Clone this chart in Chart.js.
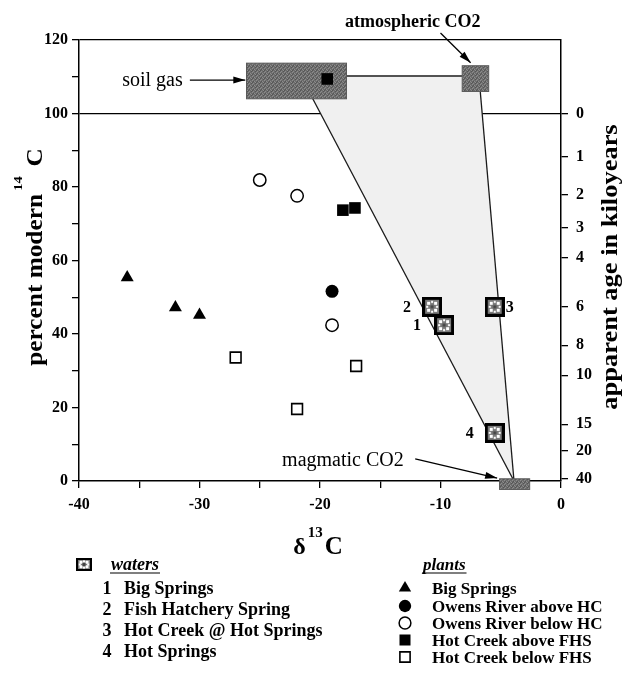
<!DOCTYPE html>
<html>
<head>
<meta charset="utf-8">
<script src="https://cdn.jsdelivr.net/npm/chart.js@4.4.0/dist/chart.umd.min.js"></script>
<style>
  html, body { margin: 0; padding: 0; background: #fff; }
  #wrap { width: 623px; height: 677px; }
</style>
</head>
<body>
<div id="wrap"><canvas id="chart" width="623" height="677"></canvas></div>
<script>
// axes
const xMin = -40, xMax = 0;
const yMin = 0, yMax = 120;
const ageTicks = [0, 1, 2, 3, 4, 6, 8, 10, 15, 20, 40]; // kiloyears, right axis
const meanLife = 8.033; // ky, 14C mean life used for the age axis

// waters (numbered, crosshatched squares)
const waterNames = ['Big Springs', 'Fish Hatchery Spring', 'Hot Creek @ Hot Springs', 'Hot Springs'];
const waterX = [-9.7, -10.7, -5.5, -5.5];
const waterY = [42.4, 47.4, 47.4, 13.1];

// plants
const plantNames = ['Big Springs', 'Owens River above HC', 'Owens River below HC', 'Hot Creek above FHS', 'Hot Creek below FHS'];
const bigSpringsX = [-36, -32, -30];
const bigSpringsY = [55.4, 47.2, 45.2];
const owensAboveX = [-19];
const owensAboveY = [51.6];
const owensBelowX = [-25, -21.9, -19];
const owensBelowY = [81.9, 77.6, 42.4];
const hcAboveX = [-19.4, -18.1, -17.1];
const hcAboveY = [109.4, 73.7, 74.3];
const hcBelowX = [-27, -21.9, -17];
const hcBelowY = [33.6, 19.6, 31.3];

// end members [x0, x1, y0, y1]
const soilGasBox = [-26.1, -17.8, 104, 113.7];
const atmBox = [-8.2, -6.0, 106, 113];
const magmaticBox = [-5.1, -2.6, -2.3, 0.6];

// mixing lines
const soilLineX = [-20.6, -3.9];
const soilLineY = [104, 0];
const atmLineX = [-6.7, -3.9];
const atmLineY = [106, 0];
const linkX = [-17.8, -8.2];
const linkY = [110.2, 110.2];
const envelopeX = [-21.6, -6.8, -3.9, -21.6];
const envelopeY = [110, 110, 0, 110];

const serif = '"Liberation Serif", "Times New Roman", serif';
Chart.defaults.color = '#000';
Chart.defaults.font.family = serif;

const pts = (xs, ys) => xs.map((x, i) => ({x: x, y: ys[i]}));

function waterIcon(w, h, b) {
  const c = document.createElement('canvas');
  c.width = w; c.height = h;
  const g = c.getContext('2d');
  g.fillStyle = '#000';
  g.fillRect(0, 0, w, h);
  g.fillStyle = '#7a7a7a';
  g.fillRect(b, b, w - 2 * b, h - 2 * b);
  g.fillStyle = '#fff';
  const mx = w / 2, my = h / 2, qx = (w - 2 * b) / 4, qy = (h - 2 * b) / 4;
  [[-1, -1], [1, -1], [-1, 1], [1, 1]].forEach(([i, j]) => g.fillRect(mx + i * qx - 1.5, my + j * qy - 1.5, 3, 3));
  [[0, -1.4], [-1.4, 0], [1.4, 0], [0, 1.4]].forEach(([i, j]) => g.fillRect(mx + i * qx - 1, my + j * qy - 1, 2, 2));
  g.fillStyle = '#444';
  g.fillRect(mx - 1.5, my - 1.5, 3, 3);
  return c;
}
const waterMark = waterIcon(20, 20, 3);
const waterLegendMark = waterIcon(16, 13, 2);

function grainPattern(ctx) {
  const c = document.createElement('canvas');
  c.width = 4; c.height = 4;
  const g = c.getContext('2d');
  g.fillStyle = '#6c6c6c'; g.fillRect(0, 0, 4, 4);
  g.fillStyle = '#8c8c8c';
  g.fillRect(0, 0, 1, 1); g.fillRect(2, 1, 1, 1); g.fillRect(1, 3, 1, 1); g.fillRect(3, 2, 1, 1);
  g.fillStyle = '#555';
  g.fillRect(1, 1, 1, 1); g.fillRect(3, 3, 1, 1); g.fillRect(0, 2, 1, 1);
  return ctx.createPattern(c, 'repeat');
}

const plantStyles = [
  {pointStyle: 'triangle', radius: 7.5, bg: '#000', border: '#000', bw: 0},
  {pointStyle: 'circle', radius: 6.5, bg: '#000', border: '#000', bw: 0},
  {pointStyle: 'circle', radius: 6.2, bg: '#fff', border: '#000', bw: 1.5},
  {pointStyle: 'rect', radius: 8.2, bg: '#000', border: '#000', bw: 0},
  {pointStyle: 'rect', radius: 7.6, bg: '#fff', border: '#000', bw: 1.6}
];
const plantX = [bigSpringsX, owensAboveX, owensBelowX, hcAboveX, hcBelowX];
const plantY = [bigSpringsY, owensAboveY, owensBelowY, hcAboveY, hcBelowY];

function lineSet(xs, ys, order, extra) {
  return Object.assign({
    data: pts(xs, ys), showLine: true, pointRadius: 0, borderColor: '#1a1a1a',
    borderWidth: 1.3, fill: false, order: order
  }, extra || {});
}

const datasets = [
  lineSet(envelopeX, envelopeY, 12, {fill: 'shape', backgroundColor: '#f0f0f0', borderWidth: 0, borderColor: 'rgba(0,0,0,0)'}),
  lineSet(linkX, linkY, 11),
  lineSet(atmLineX, atmLineY, 10),
  lineSet(soilLineX, soilLineY, 9, {boxesAfter: true}),
  {
    label: 'waters', data: pts(waterX, waterY), pointStyle: waterMark, pointRadius: 10, order: 2
  }
];
plantNames.forEach((n, k) => {
  const s = plantStyles[k];
  datasets.push({
    label: n, data: pts(plantX[k], plantY[k]), pointStyle: s.pointStyle, pointRadius: s.radius,
    backgroundColor: s.bg, borderColor: s.border, borderWidth: s.bw, order: 1
  });
});

function drawBox(chart, box) {
  const {ctx, scales: {x, y}} = chart;
  const x0 = x.getPixelForValue(box[0]), x1 = x.getPixelForValue(box[1]);
  const y0 = y.getPixelForValue(box[3]), y1 = y.getPixelForValue(box[2]);
  ctx.save();
  ctx.fillStyle = grainPattern(ctx);
  ctx.fillRect(x0, y0, x1 - x0, y1 - y0);
  ctx.strokeStyle = '#5a5a5a';
  ctx.lineWidth = 1;
  ctx.strokeRect(x0, y0, x1 - x0, y1 - y0);
  ctx.restore();
}

function arrow(ctx, x1, y1, x2, y2) {
  ctx.beginPath(); ctx.moveTo(x1, y1); ctx.lineTo(x2, y2); ctx.stroke();
  const a = Math.atan2(y2 - y1, x2 - x1), L = 12, W = 3.5;
  ctx.beginPath();
  ctx.moveTo(x2, y2);
  ctx.lineTo(x2 - L * Math.cos(a) + W * Math.sin(a), y2 - L * Math.sin(a) - W * Math.cos(a));
  ctx.lineTo(x2 - L * Math.cos(a) - W * Math.sin(a), y2 - L * Math.sin(a) + W * Math.cos(a));
  ctx.closePath(); ctx.fill();
}

function richText(ctx, parts, x, y, angle, stretch) {
  ctx.save();
  ctx.translate(x, y);
  ctx.rotate(angle);
  ctx.scale(stretch, 1);
  let total = 0;
  parts.forEach(p => { ctx.font = p.font; p.w = ctx.measureText(p.t).width; total += p.w + (p.gap || 0); });
  let cur = -total / 2;
  ctx.textAlign = 'left';
  ctx.textBaseline = 'alphabetic';
  parts.forEach(p => { cur += p.gap || 0; ctx.font = p.font; ctx.fillText(p.t, cur, p.dy || 0); cur += p.w; });
  ctx.restore();
}

const annotations = [
  {text: 'soil gas', font: '20px ' + serif, tx: -33.9, ty: 108.8, from: [-30.8, 109.1], to: [-26.2, 109.1]},
  {text: 'atmospheric CO2', font: 'bold 18px ' + serif, tx: -12.3, ty: 124.9, from: [-10.0, 121.9], to: [-7.5, 113.8]},
  {text: 'magmatic CO2', font: '20px ' + serif, tx: -18.1, ty: 5.4, from: [-12.1, 6.0], to: [-5.3, 0.8]}
];
const waterLabelDx = [-27, -25, 15, -25];

const figurePlugin = {
  id: 'figure',
  afterDatasetDraw(chart, args) {
    if (!chart.data.datasets[args.index].boxesAfter) return;
    drawBox(chart, soilGasBox);
    drawBox(chart, atmBox);
    drawBox(chart, magmaticBox);
  },
  afterDraw(chart) {
    const {ctx, scales: {x, y}} = chart;
    ctx.save();
    ctx.fillStyle = '#000';
    ctx.strokeStyle = '#000';
    ctx.lineWidth = 1.3;
    ctx.textBaseline = 'middle';
    ctx.textAlign = 'center';
    annotations.forEach(a => {
      ctx.font = a.font;
      ctx.fillText(a.text, x.getPixelForValue(a.tx), y.getPixelForValue(a.ty));
      arrow(ctx, x.getPixelForValue(a.from[0]), y.getPixelForValue(a.from[1]),
        x.getPixelForValue(a.to[0]), y.getPixelForValue(a.to[1]));
    });
    // water numbers
    ctx.font = 'bold 16px ' + serif;
    waterX.forEach((wx, i) => {
      ctx.fillText(String(i + 1), x.getPixelForValue(wx) + waterLabelDx[i], y.getPixelForValue(waterY[i]) + 1);
    });
    ctx.restore();

    // axis titles
    richText(ctx, [
      {t: 'percent modern', font: 'bold 23px ' + serif},
      {t: '14', font: 'bold 13px ' + serif, gap: 3, dy: -20},
      {t: 'C', font: 'bold 23px ' + serif, gap: 9}
    ], 42, 257, -Math.PI / 2, 1.1);
    richText(ctx, [
      {t: 'apparent age in kiloyears', font: 'bold 23px ' + serif}
    ], 617, 267, -Math.PI / 2, 1.15);
    richText(ctx, [
      {t: 'δ', font: 'bold 24px ' + serif},
      {t: '13', font: 'bold 15px ' + serif, gap: 2, dy: -17},
      {t: 'C', font: 'bold 25px ' + serif, gap: 2}
    ], 318, 554, 0, 1);

    // legend
    ctx.save();
    ctx.fillStyle = '#000';
    ctx.strokeStyle = '#000';
    ctx.textBaseline = 'alphabetic';
    ctx.drawImage(waterLegendMark, 76, 558);
    const header = (t, hx, size) => {
      ctx.font = 'italic bold ' + size + 'px ' + serif;
      ctx.textAlign = 'left';
      ctx.fillText(t, hx, 570);
      const w = ctx.measureText(t).width;
      ctx.lineWidth = 1.2;
      ctx.beginPath(); ctx.moveTo(hx - 1, 573); ctx.lineTo(hx + w + 1, 573); ctx.stroke();
    };
    header('waters', 111, 18);
    header('plants', 423, 17);
    const waterRows = [588, 609, 630, 651];
    waterNames.forEach((n, i) => {
      ctx.font = 'bold 18px ' + serif;
      ctx.textAlign = 'center';
      ctx.fillText(String(i + 1), 107, waterRows[i] + 6);
      ctx.textAlign = 'left';
      ctx.fillText(n, 124, waterRows[i] + 6);
    });
    const plantRows = [588, 606, 623, 640, 657];
    plantNames.forEach((n, i) => {
      const s = plantStyles[i];
      ctx.fillStyle = s.bg;
      ctx.strokeStyle = s.border;
      ctx.lineWidth = s.bw;
      Chart.helpers.drawPoint(ctx, {pointStyle: s.pointStyle, radius: s.radius * 0.95, borderWidth: s.bw, rotation: 0}, 405, plantRows[i]);
      ctx.fillStyle = '#000';
      ctx.font = 'bold 17px ' + serif;
      ctx.textAlign = 'left';
      ctx.fillText(n, 432, plantRows[i] + 6);
    });
    ctx.restore();
  }
};

const tickFont = {family: serif, size: 16, weight: 'bold'};

new Chart(document.getElementById('chart'), {
  type: 'scatter',
  data: {datasets: datasets},
  options: {
    responsive: false,
    animation: false,
    events: [],
    layout: {padding: {top: 40, left: 0, right: 0, bottom: 0}},
    plugins: {legend: {display: false}, tooltip: {enabled: false}},
    scales: {
      x: {
        type: 'linear', position: 'bottom', min: xMin, max: xMax,
        afterFit: s => { s.height = 196; },
        border: {color: '#000', width: 1.5},
        grid: {drawOnChartArea: false, tickLength: 7, color: '#000', lineWidth: 1.3},
        ticks: {stepSize: 5, autoSkip: false, maxRotation: 0, padding: 7, font: tickFont,
          callback: v => (v % 10 === 0 ? String(v) : '')}
      },
      y: {
        type: 'linear', position: 'left', min: yMin, max: yMax,
        afterFit: s => { s.width = 79; },
        border: {color: '#000', width: 1.5},
        grid: {
          tickLength: 7, tickColor: '#000', lineWidth: 1.3,
          color: c => (c.tick && (c.tick.value === 100 || c.tick.value === 120)) ? '#000' : 'rgba(0,0,0,0)'
        },
        ticks: {stepSize: 10, autoSkip: false, padding: 4, font: tickFont,
          callback: v => (v % 20 === 0 ? String(v) : '')}
      },
      y2: {
        type: 'linear', position: 'right', min: yMin, max: yMax,
        afterFit: s => { s.width = 62; },
        afterBuildTicks: s => { s.ticks = ageTicks.map(a => ({value: 100 * Math.exp(-a / meanLife)})); },
        border: {color: '#000', width: 1.5},
        grid: {drawOnChartArea: false, tickLength: 7, color: '#000', lineWidth: 1.3},
        ticks: {autoSkip: false, padding: 8, font: tickFont,
          callback: (v, i) => String(ageTicks[i])}
      }
    }
  },
  plugins: [figurePlugin]
});
</script>
</body>
</html>
